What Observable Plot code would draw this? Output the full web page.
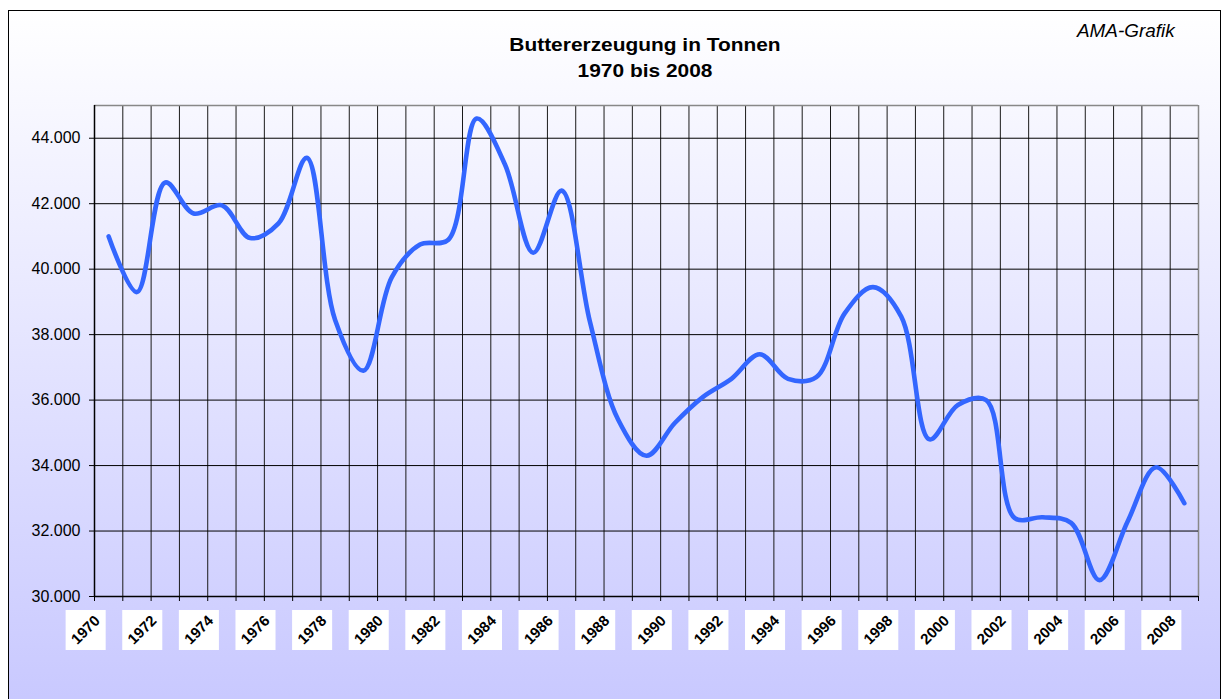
<!DOCTYPE html>
<html>
<head>
<meta charset="utf-8">
<script src="https://cdn.jsdelivr.net/npm/d3@7"></script>
<script src="https://cdn.jsdelivr.net/npm/@observablehq/plot@0.6"></script>
<style>
  html, body { margin: 0; padding: 0; width: 1224px; height: 699px; overflow: hidden; background: #fff; }
  #frame { position: absolute; left: 8px; top: 10px; width: 1213px; height: 700px;
    border: 1.5px solid #000; box-sizing: border-box;
    background: linear-gradient(to bottom, #ffffff 0%, #c8c8ff 100%); }
  #chart { position: absolute; left: 0; top: 0; }
  .t { position: absolute; font-family: "Liberation Sans", Arial, sans-serif; color: #000; white-space: nowrap; }
  #title { left: 0; width: 1290px; text-align: center; top: 32px; font-weight: bold; font-size: 19px; line-height: 26px; transform: scaleX(1.1); transform-origin: 645px 0; }
  #ama { left: 1077px; top: 21px; font-style: italic; font-size: 17.5px; transform: scaleX(1.08); transform-origin: 0 0; }
</style>
</head>
<body>
<div id="frame"></div>
<div id="chart"></div>
<div class="t" id="title">Buttererzeugung in Tonnen<br>1970 bis 2008</div>
<div class="t" id="ama">AMA-Grafik</div>
<script>
const years = [1970,1971,1972,1973,1974,1975,1976,1977,1978,1979,1980,1981,1982,1983,1984,1985,1986,1987,1988,1989,
  1990,1991,1992,1993,1994,1995,1996,1997,1998,1999,2000,2001,2002,2003,2004,2005,2006,2007,2008];
const butter = [41000,39300,42650,41700,41950,40950,41400,43400,38450,36900,39750,40750,40900,44600,43200,40500,42400,38400,35400,34300,
  35300,36100,36650,37400,36650,36700,38650,39450,38550,34800,35850,36000,32400,32420,32250,30500,32300,33950,32850];
const yTicks = [30000,32000,34000,36000,38000,40000,42000,44000];
const yTickLabels = ["30.000","32.000","34.000","36.000","38.000","40.000","42.000","44.000"];
const xLabelYears = [1970,1972,1974,1976,1978,1980,1982,1984,1986,1988,1990,1992,1994,1996,1998,2000,2002,2004,2006,2008];
const yMin = 30000, yMax = 45000;

const data = years.map((y, i) => ({year: y, value: butter[i]}));
const boundaries = years.map(y => y - 0.5).concat([years[years.length - 1] + 0.5]);

const chart = Plot.plot({
  width: 1224,
  height: 699,
  marginLeft: 94,
  marginRight: 26,
  marginTop: 105,
  marginBottom: 103,
  x: {domain: [years[0] - 0.5, years[years.length - 1] + 0.5], axis: null},
  y: {domain: [yMin, yMax], axis: null},
  style: {background: "transparent", fontFamily: "'Liberation Sans', Arial, sans-serif", overflow: "visible"},
  marks: [
    Plot.ruleX(boundaries.slice(1, -1), {stroke: "#1a1a1a", strokeWidth: 1}),
    Plot.ruleX([boundaries[boundaries.length - 1]], {stroke: "#888", strokeWidth: 1.5}),
    Plot.ruleY(yTicks.slice(1), {stroke: "#000", strokeWidth: 1}),
    Plot.ruleY([yMax], {stroke: "#888", strokeWidth: 1.5}),
    Plot.ruleY([yMin], {stroke: "#000", strokeWidth: 1.5}),
    Plot.ruleX([boundaries[0]], {stroke: "#000", strokeWidth: 1.5}),
    Plot.axisX(boundaries, {tickSize: 5, tickFormat: () => "", stroke: "#000", label: null}),
    Plot.axisY(yTicks, {tickSize: 5, tickPadding: 9, tickFormat: (d) => yTickLabels[yTicks.indexOf(d)], fontSize: 16, stroke: "#000", label: null}),
    Plot.line(data, {x: "year", y: "value", curve: "catmull-rom", stroke: "#3366ff", strokeWidth: 4.6, strokeLinecap: "round", strokeLinejoin: "round"}),
    Plot.dot(xLabelYears, {x: d => d, y: yMin, symbol: "square", r: 22.6, fill: "#fff", stroke: "none", dx: -23, dy: 33.5}),
    Plot.text(xLabelYears, {x: d => d, y: yMin, text: d => String(d), rotate: -45, dx: -23, dy: 33.5, fontSize: 15, fontWeight: "bold", fill: "#000"})
  ]
});
document.getElementById("chart").appendChild(chart);
</script>
</body>
</html>
